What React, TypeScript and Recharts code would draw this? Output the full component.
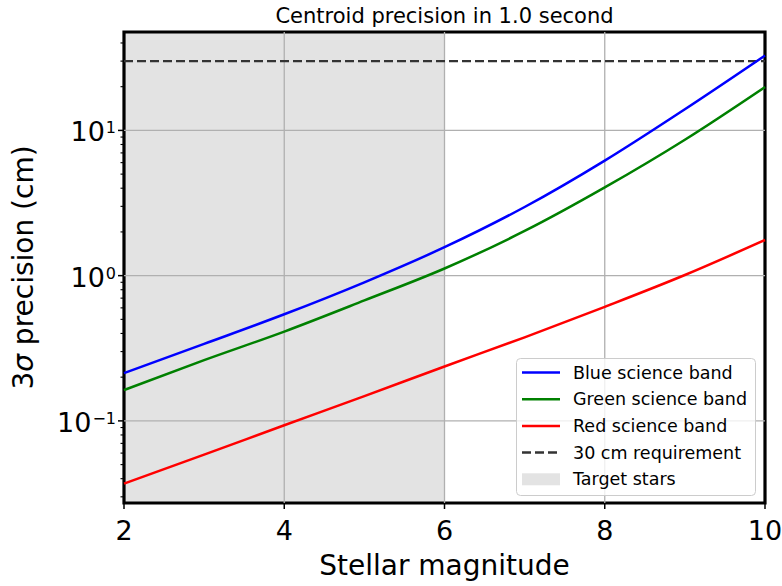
import { LineChart, Line, XAxis, YAxis, ReferenceLine, ReferenceArea, Legend } from 'recharts';

// stellar magnitude samples
const magnitudes = [2, 3, 4, 5, 6, 7, 8, 9, 10];
// 3-sigma centroid precision (cm) per science band
const blueBand = [0.213, 0.339, 0.542, 0.9, 1.57, 2.97, 6.2, 14.0, 32.8];
const greenBand = [0.163, 0.262, 0.412, 0.675, 1.12, 2.03, 4.05, 8.63, 19.9];
const redBand = [0.037, 0.0586, 0.0933, 0.148, 0.237, 0.376, 0.61, 1.01, 1.76];

const requirementCm = 30;
const targetStars = [2, 6];

const xTicks = [2, 4, 6, 8, 10];
const xGrid = [4, 6, 8];
const yMajor = [0.1, 1, 10];
const yMinor = [
  0.03, 0.04, 0.05, 0.06, 0.07, 0.08, 0.09,
  0.2, 0.3, 0.4, 0.5, 0.6, 0.7, 0.8, 0.9,
  2, 3, 4, 5, 6, 7, 8, 9,
  20, 30, 40,
];
const yDomain = [0.0272, 47.6];

const legendItems = [
  { label: 'Blue science band', color: '#0000ff', kind: 'line' },
  { label: 'Green science band', color: '#008000', kind: 'line' },
  { label: 'Red science band', color: '#ff0000', kind: 'line' },
  { label: '30 cm requirement', color: '#333333', kind: 'dash' },
  { label: 'Target stars', color: '#e3e3e3', kind: 'patch' },
];

const FONT = '"DejaVu Sans", sans-serif';
const SHADE = '#e3e3e3';
const GRID = '#b0b0b0';

const data = magnitudes.map((m, i) => ({
  mag: m,
  blue: blueBand[i],
  green: greenBand[i],
  red: redBand[i],
}));

const XTick = ({ x, y, payload }: any) => (
  <g>
    <line x1={x} x2={x} y1={y} y2={y + 6} stroke="#000" strokeWidth={1.5} />
    <text x={x} y={y + 37} textAnchor="middle" fontSize={27} fontFamily={FONT} fill="#000">
      {payload.value}
    </text>
  </g>
);

const YTick = ({ x, y, payload }: any) => {
  const lg = Math.log10(payload.value);
  const exp = Math.round(lg);
  if (Math.abs(lg - exp) > 1e-6) {
    return <line x1={x - 3.5} x2={x} y1={y} y2={y} stroke="#000" strokeWidth={1.1} />;
  }
  return (
    <g>
      <line x1={x - 6} x2={x} y1={y} y2={y} stroke="#000" strokeWidth={1.5} />
      <text x={x - 8} y={y + 11} textAnchor="end" fontSize={27} fontFamily={FONT} fill="#000">
        10
        <tspan dx={1} dy={-8} fontSize={16}>
          {exp < 0 ? '\u2212' + Math.abs(exp) : String(exp)}
        </tspan>
      </text>
    </g>
  );
};

const LegendBox = () => (
  <svg width={241} height={139} style={{ display: 'block' }}>
    <rect x={0.5} y={0.5} width={239} height={137} rx={4} fill="rgba(255,255,255,0.8)" stroke="#cccccc" />
    {legendItems.map((it, i) => {
      const cy = 14.5 + i * 26.7;
      return (
        <g key={it.label}>
          {it.kind === 'patch' ? (
            <rect x={6} y={cy - 6} width={38} height={12} fill={it.color} />
          ) : (
            <line
              x1={6}
              x2={44}
              y1={cy}
              y2={cy}
              stroke={it.color}
              strokeWidth={2.5}
              strokeDasharray={it.kind === 'dash' ? '9 4' : undefined}
            />
          )}
          <text x={57} y={cy + 6} fontSize={17.5} fontFamily={FONT} fill="#000">
            {it.label}
          </text>
        </g>
      );
    })}
  </svg>
);

export default function App() {
  return (
    <div style={{ position: 'absolute', left: 0, top: 0, width: 782, height: 586, background: '#fff' }}>
      <LineChart
        width={782}
        height={586}
        data={data}
        margin={{ top: 32, right: 17, bottom: 0, left: 0 }}
        style={{ fontFamily: FONT }}
      >
        <XAxis
          dataKey="mag"
          type="number"
          domain={[2, 10]}
          ticks={xTicks}
          height={83}
          axisLine={false}
          tickLine={false}
          tickSize={0}
          tickMargin={0}
          tick={<XTick />}
          interval={0}
        />
        <YAxis
          type="number"
          scale="log"
          domain={yDomain}
          allowDataOverflow
          ticks={[...yMinor, ...yMajor].sort((a, b) => a - b)}
          width={124}
          axisLine={false}
          tickLine={false}
          tickSize={0}
          tickMargin={0}
          tick={<YTick />}
          interval={0}
        />
        <ReferenceArea
          x1={targetStars[0]}
          x2={targetStars[1]}
          y1={yDomain[0]}
          y2={yDomain[1]}
          fill={SHADE}
          fillOpacity={1}
          stroke="none"
        />
        {xGrid.map((v) => (
          <ReferenceLine key={'x' + v} x={v} stroke={GRID} strokeWidth={1.3} />
        ))}
        {yMajor.map((v) => (
          <ReferenceLine key={'y' + v} y={v} stroke={GRID} strokeWidth={1.3} />
        ))}
        <ReferenceLine y={requirementCm} stroke="#333333" strokeWidth={2.2} strokeDasharray="9 4" />
        <Line type="monotone" dataKey="blue" stroke="#0000ff" strokeWidth={2.5} dot={false} isAnimationActive={false} />
        <Line type="monotone" dataKey="green" stroke="#008000" strokeWidth={2.5} dot={false} isAnimationActive={false} />
        <Line type="monotone" dataKey="red" stroke="#ff0000" strokeWidth={2.5} dot={false} isAnimationActive={false} />
        <ReferenceArea
          x1={2}
          x2={10}
          y1={yDomain[0]}
          y2={yDomain[1]}
          fill="none"
          stroke="#000"
          strokeWidth={3.2}
        />
        <Legend
          layout="horizontal"
          verticalAlign="middle"
          align="center"
          content={<LegendBox />}
          wrapperStyle={{ left: 516, top: 358, width: 241, height: 139 }}
        />
      </LineChart>
      <svg
        width={782}
        height={586}
        style={{ position: 'absolute', left: 0, top: 0, pointerEvents: 'none' }}
      >
        <text x={444.5} y={23} textAnchor="middle" fontSize={21} fontFamily={FONT} fill="#000">
          Centroid precision in 1.0 second
        </text>
        <text x={444.5} y={575} textAnchor="middle" fontSize={28} fontFamily={FONT} fill="#000">
          Stellar magnitude
        </text>
        <text
          transform="translate(33 267.5) rotate(-90)"
          x={0}
          y={0}
          textAnchor="middle"
          fontSize={28}
          fontFamily={FONT}
          fill="#000"
        >
          3<tspan fontStyle="italic">σ</tspan> precision (cm)
        </text>
      </svg>
    </div>
  );
}
